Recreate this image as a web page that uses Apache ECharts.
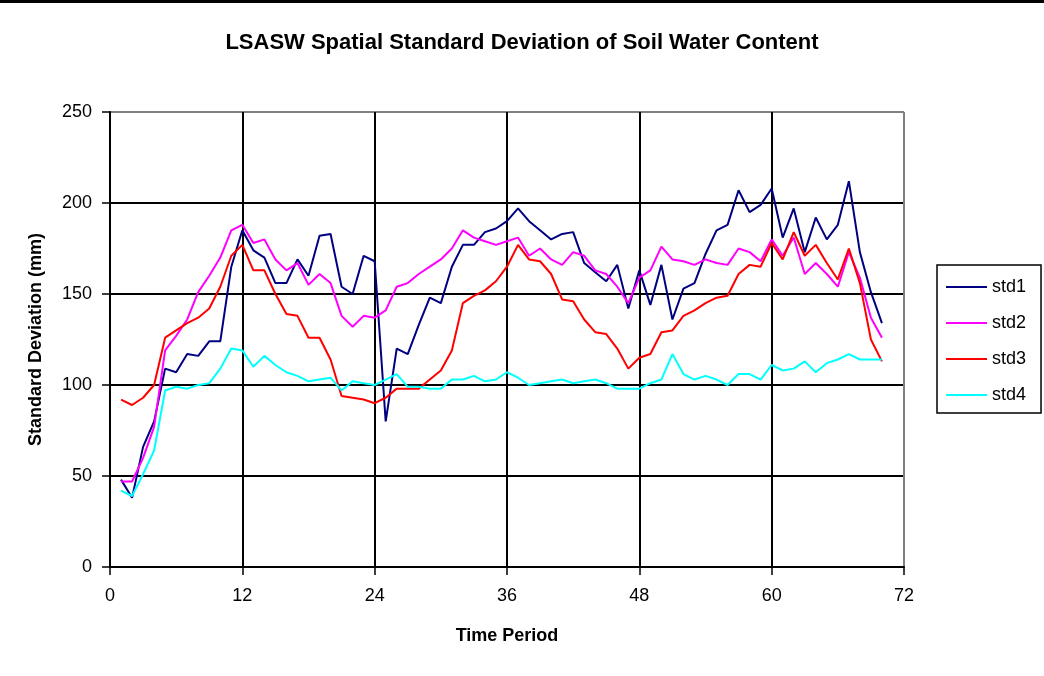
<!DOCTYPE html>
<html>
<head>
<meta charset="utf-8">
<title>LSASW Spatial Standard Deviation of Soil Water Content</title>
<script src="https://cdn.jsdelivr.net/npm/echarts@6/dist/echarts.min.js"></script>
<style>
  html, body { margin: 0; padding: 0; background: #fff; }
  #chart { width: 1044px; height: 676px; }
</style>
</head>
<body>
<div id="chart"></div>
<script>
// time periods 1..70
const timePeriods = [
  1, 2, 3, 4, 5, 6, 7, 8, 9, 10, 11, 12, 13, 14, 15, 16, 17, 18, 19, 20,
  21, 22, 23, 24, 25, 26, 27, 28, 29, 30, 31, 32, 33, 34, 35, 36, 37, 38, 39, 40,
  41, 42, 43, 44, 45, 46, 47, 48, 49, 50, 51, 52, 53, 54, 55, 56, 57, 58, 59, 60,
  61, 62, 63, 64, 65, 66, 67, 68, 69, 70
];

const std1 = [
  48, 38, 66, 80, 109, 107, 117, 116, 124, 124, 165, 185, 174, 170, 156, 156, 169, 160, 182, 183,
  154, 150, 171, 168, 80, 120, 117, 133, 148, 145, 165, 177, 177, 184, 186, 190, 197, 190, 185, 180,
  183, 184, 167, 162, 157, 166, 142, 163, 144, 166, 136, 153, 156, 172, 185, 188, 207, 195, 199, 208,
  181, 197, 173, 192, 180, 188, 212, 173, 151, 134
];

const std2 = [
  47, 47, 60, 77, 119, 127, 136, 151, 160, 170, 185, 188, 178, 180, 169, 163, 167, 155, 161, 156,
  138, 132, 138, 137, 141, 154, 156, 161, 165, 169, 175, 185, 181, 179, 177, 179, 181, 171, 175, 169,
  166, 173, 171, 163, 161, 154, 145, 159, 163, 176, 169, 168, 166, 169, 167, 166, 175, 173, 168, 180,
  171, 181, 161, 167, 161, 154, 173, 159, 137, 126
];

const std3 = [
  92, 89, 93, 100, 126, 130, 134, 137, 142, 154, 171, 177, 163, 163, 150, 139, 138, 126, 126, 114,
  94, 93, 92, 90, 93, 98, 98, 98, 103, 108, 119, 145, 149, 152, 157, 165, 177, 169, 168, 161,
  147, 146, 136, 129, 128, 120, 109, 115, 117, 129, 130, 138, 141, 145, 148, 149, 161, 166, 165, 178,
  169, 184, 171, 177, 167, 158, 175, 156, 125, 113
];

const std4 = [
  42, 39, 51, 64, 97, 99, 98, 100, 101, 109, 120, 119, 110, 116, 111, 107, 105, 102, 103, 104,
  97, 102, 101, 100, 103, 106, 99, 99, 98, 98, 103, 103, 105, 102, 103, 107, 104, 100, 101, 102,
  103, 101, 102, 103, 101, 98, 98, 98, 101, 103, 117, 106, 103, 105, 103, 100, 106, 106, 103, 111,
  108, 109, 113, 107, 112, 114, 117, 114, 114, 114
];

const seriesNames = ["std1", "std2", "std3", "std4"];
const seriesColors = ["#000080", "#ff00ff", "#ff0000", "#00ffff"];
const seriesValues = [std1, std2, std3, std4];

const FONT = "'Liberation Sans', Arial, sans-serif";

let myChart = echarts.init(document.getElementById("chart"));

let option = {
  backgroundColor: "#fff",
  animation: false,
  textStyle: { fontFamily: FONT },
  title: {
    text: "LSASW Spatial Standard Deviation of Soil Water Content",
    left: "center",
    top: 27,
    textStyle: {
      fontFamily: FONT,
      fontSize: 22,
      fontWeight: "bold",
      color: "#000"
    }
  },
  // frame line along the top edge of the picture
  graphic: [
    {
      type: "rect",
      shape: { x: 0, y: 0, width: 1044, height: 3 },
      style: { fill: "#000" }
    }
  ],
  grid: {
    left: 110,
    right: 140,
    top: 112,
    bottom: 109,
    show: false
  },
  legend: {
    orient: "vertical",
    left: 937,
    top: 265,
    padding: [13, 15, 9, 9],
    itemGap: 18,
    itemWidth: 41,
    itemHeight: 2,
    icon: "rect",
    borderColor: "#000",
    borderWidth: 1.5,
    textStyle: {
      fontFamily: FONT,
      fontSize: 18,
      color: "#000",
      lineHeight: 18
    },
    data: seriesNames
  },
  xAxis: {
    type: "value",
    min: 0,
    max: 72,
    interval: 12,
    name: "Time Period",
    nameLocation: "middle",
    nameGap: 60,
    nameTextStyle: {
      fontFamily: FONT,
      fontSize: 18,
      fontWeight: "bold",
      color: "#000"
    },
    axisLine: { show: true, lineStyle: { color: "#000", width: 2 } },
    axisTick: { show: true, inside: false, length: 8, lineStyle: { color: "#000", width: 1.5 } },
    axisLabel: { fontFamily: FONT, fontSize: 18, color: "#000", margin: 20 },
    splitLine: {
      show: true,
      lineStyle: {
        color: ["#000", "#000", "#000", "#000", "#000", "#000", "#808080"],
        width: 2
      }
    }
  },
  yAxis: {
    type: "value",
    min: 0,
    max: 250,
    interval: 50,
    name: "Standard Deviation (mm)",
    nameLocation: "middle",
    nameGap: 65,
    nameTextStyle: {
      fontFamily: FONT,
      fontSize: 18,
      fontWeight: "bold",
      color: "#000"
    },
    axisLine: { show: true, lineStyle: { color: "#000", width: 2 } },
    axisTick: { show: true, inside: false, length: 8, lineStyle: { color: "#000", width: 1.5 } },
    axisLabel: { fontFamily: FONT, fontSize: 18, color: "#000", margin: 18 },
    splitLine: {
      show: true,
      lineStyle: {
        color: ["#000", "#000", "#000", "#000", "#000", "#808080"],
        width: 2
      }
    }
  },
  series: seriesNames.map((name, i) => ({
    name: name,
    type: "line",
    showSymbol: false,
    symbol: "none",
    color: seriesColors[i],
    lineStyle: { color: seriesColors[i], width: 2 },
    data: timePeriods.map((t, k) => [t, seriesValues[i][k]])
  }))
};

myChart.setOption(option, true);
</script>
</body>
</html>
